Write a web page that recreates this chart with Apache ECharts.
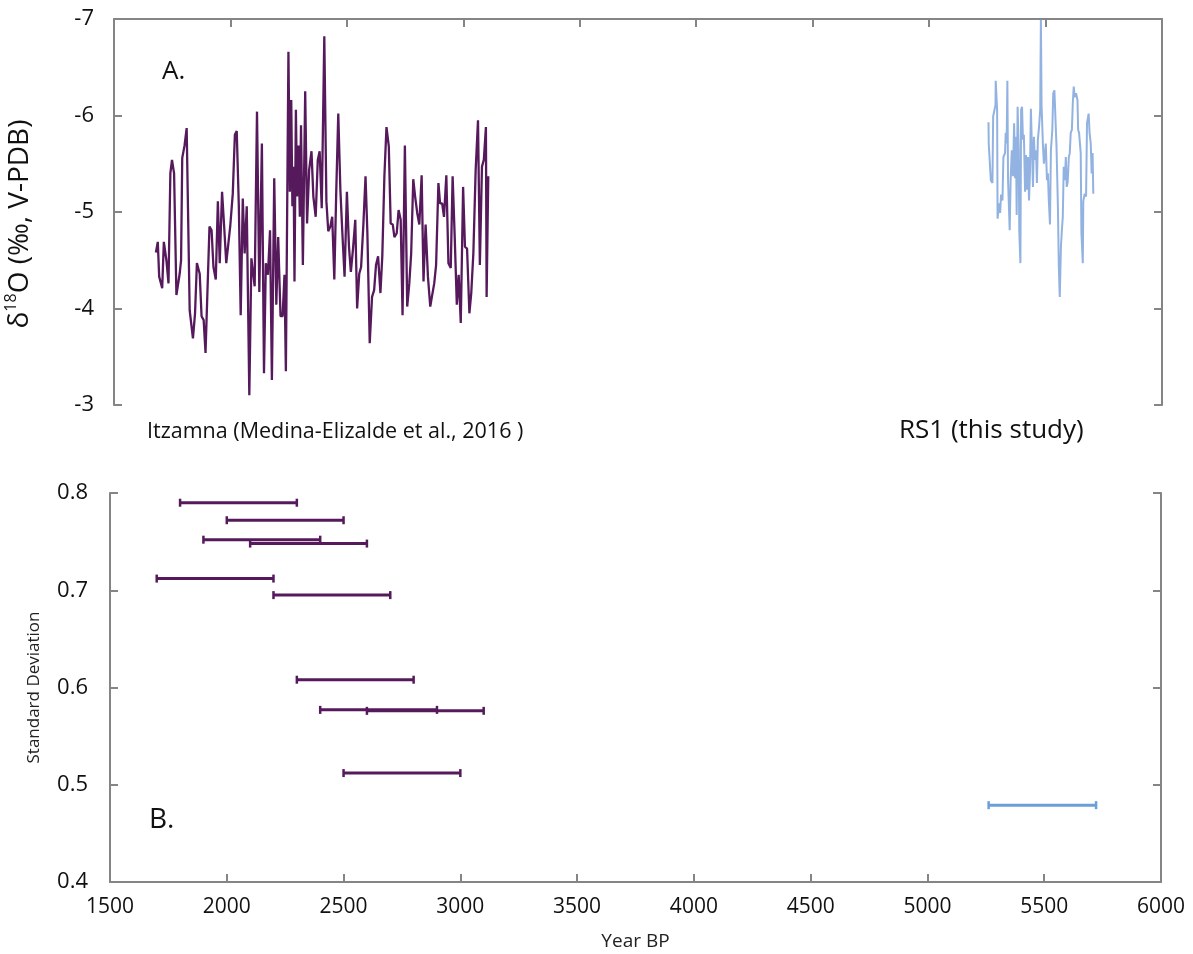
<!DOCTYPE html>
<html>
<head>
<meta charset="utf-8">
<title>δ18O records and windowed standard deviation</title>
<script src="https://cdn.jsdelivr.net/npm/echarts@6/dist/echarts.min.js"></script>
<style>
  html, body { margin: 0; padding: 0; background: #ffffff; }
  #chart { width: 1193px; height: 954px; }
</style>
</head>
<body>
<div id="chart"></div>
<script>
// Itzamna speleothem record (Medina-Elizalde et al., 2016)
const itzamnaYear = [
  1680,1688,1694,1707,1714,1725,1734,1742,1749,1758,
  1768,1782,1788,1793,1803,1812,1825,1839,1848,1856,
  1868,1876,1885,1893,1910,1919,1927,1937,1946,1954,
  1964,1973,1982,1990,1999,2010,2019,2027,2036,2044,
  2053,2061,2070,2081,2090,2104,2114,2124,2135,2144,
  2152,2161,2170,2178,2188,2197,2205,2215,2224,2232,
  2238,2244,2249,2255,2261,2266,2271,2275,2281,2286,
  2292,2298,2303,2311,2321,2329,2338,2348,2356,2366,
  2375,2383,2392,2403,2412,2420,2429,2437,2446,2454,
  2463,2472,2480,2490,2500,2509,2517,2526,2536,2544,
  2553,2561,2571,2580,2588,2598,2608,2617,2625,2634,
  2644,2652,2661,2670,2680,2688,2697,2704,2714,2722,
  2731,2739,2749,2759,2768,2776,2785,2793,2802,2811,
  2821,2829,2838,2848,2858,2865,2875,2883,2893,2900,
  2909,2917,2927,2936,2946,2954,2963,2972,2980,2989,
  2999,3007,3016,3026,3034,3043,3053,3063,3071,3080,
  3088,3097,3100,3107
];
const itzamnaD18O = [
  -4.58,-4.69,-4.33,-4.21,-4.69,-4.50,-4.26,-5.40,-5.54,-5.40,
  -4.14,-4.36,-4.50,-5.56,-5.69,-5.87,-3.98,-3.69,-3.95,-4.47,
  -4.36,-3.92,-3.88,-3.54,-4.85,-4.81,-4.43,-4.30,-5.11,-4.47,
  -5.21,-4.85,-4.47,-4.45,-4.85,-5.19,-5.80,-5.84,-5.06,-3.93,
  -5.14,-4.57,-5.06,-3.10,-4.52,-4.23,-6.04,-4.17,-5.71,-3.33,
  -4.47,-4.35,-4.81,-3.26,-5.35,-4.04,-4.74,-3.92,-3.92,-4.35,
  -3.35,-3.35,-6.66,-5.21,-6.16,-5.06,-5.47,-4.28,-6.06,-5.16,
  -5.69,-4.95,-5.90,-4.45,-6.25,-4.88,-5.44,-5.63,-5.16,-4.95,
  -5.54,-5.63,-5.04,-6.82,-5.11,-4.80,-4.85,-4.95,-4.30,-5.18,
  -6.02,-5.23,-4.81,-4.33,-5.21,-4.64,-4.38,-4.61,-4.92,-4.00,
  -4.36,-4.43,-4.88,-5.37,-4.78,-3.64,-4.12,-4.19,-4.45,-4.54,
  -4.16,-4.54,-5.37,-5.88,-5.68,-4.88,-4.87,-4.74,-4.78,-5.02,
  -4.92,-3.93,-5.69,-4.02,-4.26,-4.57,-5.34,-5.16,-4.99,-4.87,
  -5.38,-4.28,-4.87,-4.33,-4.02,-4.12,-4.26,-4.45,-5.30,-5.09,
  -5.09,-4.95,-5.38,-4.47,-4.42,-5.37,-4.74,-4.04,-4.35,-3.85,
  -5.26,-4.64,-4.62,-3.95,-4.16,-4.57,-5.44,-5.95,-4.45,-5.47,
  -5.54,-5.88,-4.12,-5.37
];

// RS1 record (this study)
const rs1Year = [
  5255,5256,5263,5265,5272,5275,5285,5286,5292,5294,
  5301,5305,5309,5315,5319,5326,5329,5333,5336,5339,
  5346,5350,5355,5360,5365,5369,5373,5376,5380,5385,
  5387,5392,5395,5399,5403,5407,5412,5416,5420,5425,
  5429,5433,5437,5442,5446,5450,5454,5459,5463,5467,
  5472,5477,5480,5483,5489,5493,5497,5501,5506,5510,
  5514,5519,5523,5529,5533,5538,5543,5547,5553,5557,
  5561,5566,5570,5574,5578,5583,5587,5591,5595,5600,
  5604,5608,5613,5617,5621,5625,5631,5637,5640,5644,
  5651,5654,5660,5662,5668,5674,5678,5685,5689,5694,
  5698,5702,5705
];
const rs1D18O = [
  -5.93,-5.71,-5.71,-5.33,-5.30,-5.99,-6.11,-6.36,-6.06,-4.93,
  -5.09,-4.99,-5.18,-5.12,-5.57,-5.61,-5.82,-5.71,-6.36,-5.33,
  -4.81,-5.33,-5.64,-5.37,-5.92,-5.35,-5.78,-4.97,-6.09,-5.64,
  -4.81,-4.47,-6.06,-6.09,-5.75,-5.80,-5.21,-5.59,-5.23,-5.57,
  -5.12,-5.40,-6.07,-6.09,-5.26,-5.78,-5.54,-5.64,-5.30,-5.75,
  -5.88,-6.06,-7.00,-6.09,-5.68,-5.50,-5.49,-5.71,-5.33,-5.40,
  -5.12,-4.87,-5.64,-5.85,-6.23,-6.26,-6.26,-5.68,-5.06,-4.43,
  -4.12,-4.64,-4.81,-4.95,-5.47,-5.33,-5.57,-5.26,-5.31,-5.57,
  -5.61,-5.82,-5.85,-6.13,-6.30,-6.19,-6.23,-6.16,-5.85,-5.82,
  -5.61,-4.78,-4.47,-5.11,-5.19,-5.16,-5.92,-6.02,-5.82,-5.71,
  -5.40,-5.61,-5.19
];

// 500-year windows and their standard deviation
const itzWindowStart = [1800, 2000, 1900, 2100, 1700, 2200, 2300, 2400, 2600, 2500];
const itzWindowEnd   = [2300, 2500, 2400, 2600, 2200, 2700, 2800, 2900, 3100, 3000];
const itzWindowSD    = [0.790, 0.772, 0.752, 0.748, 0.712, 0.695, 0.608, 0.577, 0.576, 0.512];
const rs1WindowStart = [5262];
const rs1WindowEnd   = [5722];
const rs1WindowSD    = [0.479];

const FONT = '"Open Sans", "Noto Sans", sans-serif';
const PURPLE = '#561a5c';
const BLUE_LINE = 'rgba(104,148,214,0.72)';
const BLUE_BAR = '#6a9fd9';
const AXIS_GRAY = '#858585';

function pairs(xs, ys) {
  const n = Math.min(xs.length, ys.length);
  const out = [];
  for (let i = 0; i < n; i++) out.push([xs[i], ys[i]]);
  return out;
}
function windows(starts, ends, sds) {
  const n = Math.min(starts.length, ends.length, sds.length);
  const out = [];
  for (let i = 0; i < n; i++) out.push([starts[i], ends[i], sds[i]]);
  return out;
}

// horizontal bar with end caps spanning a time window
function windowBar(color) {
  return function (params, api) {
    const y = api.value(2);
    const a = api.coord([api.value(0), y]);
    const b = api.coord([api.value(1), y]);
    const cap = 4;
    return {
      type: 'group',
      children: [
        { type: 'line', shape: { x1: a[0], y1: a[1], x2: b[0], y2: b[1] }, style: { stroke: color, lineWidth: 3 } },
        { type: 'line', shape: { x1: a[0], y1: a[1] - cap, x2: a[0], y2: a[1] + cap }, style: { stroke: color, lineWidth: 2.5 } },
        { type: 'line', shape: { x1: b[0], y1: b[1] - cap, x2: b[0], y2: b[1] + cap }, style: { stroke: color, lineWidth: 2.5 } }
      ]
    };
  };
}

const axisLine = { show: true, lineStyle: { color: AXIS_GRAY, width: 2 } };
const axisTick = { show: true, inside: true, length: 8, lineStyle: { color: AXIS_GRAY, width: 2 } };

const chart = echarts.init(document.getElementById('chart'), null, { renderer: 'canvas' });
chart.setOption({
  animation: false,
  backgroundColor: '#ffffff',
  grid: [
    { left: 114, right: 31, top: 19, height: 386, containLabel: false, outerBoundsMode: 'none' },
    { left: 110, right: 32, top: 493, height: 389, containLabel: false, outerBoundsMode: 'none' }
  ],
  xAxis: [
    {
      type: 'value', gridIndex: 0, position: 'top', min: 1500, max: 6000, interval: 500,
      axisLine: axisLine, axisTick: axisTick, axisLabel: { show: false }, splitLine: { show: false }
    },
    {
      type: 'value', gridIndex: 1, position: 'bottom', min: 1500, max: 6000, interval: 500,
      axisLine: axisLine, axisTick: axisTick, splitLine: { show: false },
      axisLabel: { color: '#111', fontSize: 21, fontFamily: FONT, margin: 15, formatter: v => String(v) },
      name: 'Year BP', nameLocation: 'middle', nameGap: 50,
      nameTextStyle: { color: '#222', fontSize: 19, fontFamily: FONT }
    }
  ],
  yAxis: [
    {
      type: 'value', gridIndex: 0, position: 'left', inverse: true, min: -7, max: -3, interval: 1,
      axisLine: axisLine, axisTick: axisTick, splitLine: { show: false },
      axisLabel: { color: '#111', fontSize: 22, fontFamily: FONT, margin: 20 },
      name: '{a|δ}{sup|18}{a|O (‰, V-PDB)}', nameLocation: 'middle', nameRotate: 90, nameGap: 77,
      nameTextStyle: {
        color: '#111', fontFamily: FONT, fontSize: 28, padding: [0, 24, 0, 0],
        rich: {
          a: { fontSize: 28, fontFamily: FONT, color: '#111', lineHeight: 34 },
          sup: { fontSize: 16, fontFamily: FONT, color: '#111', verticalAlign: 'top', lineHeight: 34 }
        }
      }
    },
    {
      type: 'value', gridIndex: 0, position: 'right', inverse: true, min: -7, max: -3, interval: 1,
      axisLine: axisLine, axisTick: axisTick, axisLabel: { show: false }, splitLine: { show: false }
    },
    {
      type: 'value', gridIndex: 1, position: 'left', min: 0.4, max: 0.8, interval: 0.1,
      axisLine: axisLine, axisTick: axisTick, splitLine: { show: false },
      axisLabel: { color: '#111', fontSize: 22, fontFamily: FONT, margin: 22, formatter: v => v.toFixed(1) },
      name: 'Standard Deviation', nameLocation: 'middle', nameRotate: 90, nameGap: 67,
      nameTextStyle: { color: '#222', fontSize: 17, fontFamily: FONT }
    },
    {
      type: 'value', gridIndex: 1, position: 'right', min: 0.4, max: 0.8, interval: 0.1,
      axisLine: axisLine, axisTick: axisTick, axisLabel: { show: false }, splitLine: { show: false }
    }
  ],
  series: [
    {
      name: 'Itzamna', type: 'line', xAxisIndex: 0, yAxisIndex: 0,
      data: pairs(itzamnaYear, itzamnaD18O), showSymbol: false, symbol: 'none',
      lineStyle: { color: PURPLE, width: 2.3 }, z: 3
    },
    {
      name: 'RS1', type: 'line', xAxisIndex: 0, yAxisIndex: 0,
      data: pairs(rs1Year, rs1D18O), showSymbol: false, symbol: 'none',
      lineStyle: { color: BLUE_LINE, width: 2 }, z: 3
    },
    {
      name: 'Itzamna SD', type: 'custom', xAxisIndex: 1, yAxisIndex: 2,
      data: windows(itzWindowStart, itzWindowEnd, itzWindowSD),
      renderItem: windowBar(PURPLE), encode: { x: [0, 1], y: 2 }
    },
    {
      name: 'RS1 SD', type: 'custom', xAxisIndex: 1, yAxisIndex: 2,
      data: windows(rs1WindowStart, rs1WindowEnd, rs1WindowSD),
      renderItem: windowBar(BLUE_BAR), encode: { x: [0, 1], y: 2 }
    }
  ],
  graphic: [
    { type: 'text', x: 162, y: 72, style: { text: 'A.', fontSize: 26, fontFamily: FONT, fill: '#111', verticalAlign: 'middle' } },
    { type: 'text', x: 149, y: 820, style: { text: 'B.', fontSize: 28, fontFamily: FONT, fill: '#111', verticalAlign: 'middle' } },
    { type: 'text', x: 147, y: 432, style: { text: 'Itzamna (Medina-Elizalde et al., 2016 )', fontSize: 21.5, fontFamily: FONT, fill: '#111', verticalAlign: 'middle' } },
    { type: 'text', x: 899, y: 431, style: { text: 'RS1 (this study)', fontSize: 26, fontFamily: FONT, fill: '#111', verticalAlign: 'middle' } }
  ]
});
</script>
</body>
</html>
